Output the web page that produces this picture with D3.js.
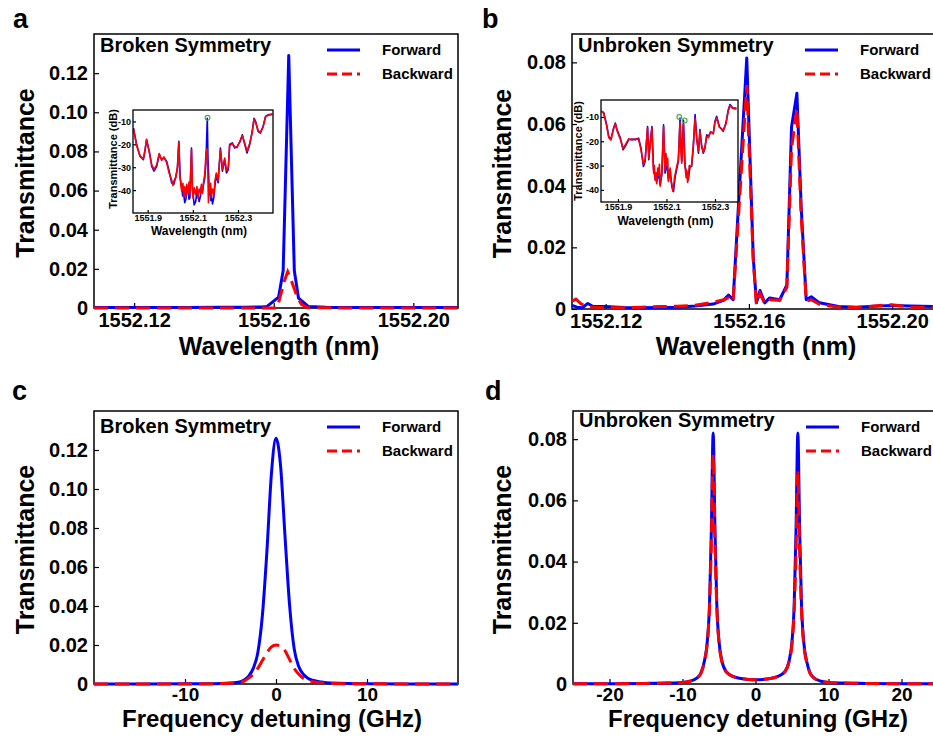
<!DOCTYPE html>
<html>
<head>
<meta charset="utf-8">
<script src="https://cdn.jsdelivr.net/npm/d3@7"></script>
<style>
  body { margin: 0; background: #fff; }
  svg text { font-family: "Liberation Sans", Arial, Helvetica, sans-serif; font-weight: bold; }
</style>
</head>
<body>
<div id="fig"></div>
<script>
// ---- panel a : measured, broken symmetry  [wavelength nm, transmittance]
const aForward = [
  [1552.1085, 0.0003], [1552.115, 0.0003], [1552.125, 0.0002], [1552.135, 0.0003], [1552.145, 0.0004],
  [1552.152, 0.0004], [1552.1566, 0.0005], [1552.1581, 0.0008], [1552.1614, 0.0056], [1552.1627, 0.019],
  [1552.1643, 0.129], [1552.1659, 0.019], [1552.1671, 0.005], [1552.1699, 0.0008], [1552.175, 0.0004],
  [1552.185, 0.0003], [1552.195, 0.0003], [1552.205, 0.0003], [1552.2128, 0.0003]
]
const aBackward = [
  [1552.1085, 0], [1552.13, 0], [1552.15, 0], [1552.1610, 0], [1552.1629, 0.013], [1552.1640, 0.0185],
  [1552.1653, 0.0128], [1552.1667, 0.0056], [1552.1679, 0.002], [1552.1695, 0.0002], [1552.18, 0], [1552.2128, 0]
]

// ---- panel b : measured, unbroken symmetry
const bForward = [
  [1552.1106, 0.0012], [1552.1120, 0.0006], [1552.1135, 0.0004], [1552.1150, 0.0018], [1552.1165, 0.0008],
  [1552.120, 0.0008], [1552.125, 0.0005], [1552.130, 0.0004], [1552.135, 0.0005], [1552.140, 0.0006],
  [1552.145, 0.0010], [1552.150, 0.0016], [1552.1529, 0.0028], [1552.1543, 0.0045], [1552.1556, 0.0030],
  [1552.1594, 0.0814], [1552.1612, 0.017], [1552.1621, 0.002], [1552.1631, 0.006], [1552.1644, 0.002],
  [1552.1658, 0.0036], [1552.1686, 0.003], [1552.1706, 0.0078], [1552.1719, 0.059], [1552.1734, 0.070],
  [1552.1746, 0.033], [1552.1760, 0.003], [1552.1774, 0.004], [1552.1797, 0.002], [1552.185, 0.0008],
  [1552.190, 0.0006], [1552.195, 0.0009], [1552.200, 0.0011], [1552.205, 0.0010], [1552.2128, 0.0008]
]
const bBackward = [
  [1552.1106, 0.0025], [1552.1117, 0.0032], [1552.1130, 0.0018], [1552.1145, 0.0008], [1552.1165, 0.0006],
  [1552.120, 0.0005], [1552.125, 0.0004], [1552.130, 0.0006], [1552.135, 0.0008], [1552.140, 0.0009],
  [1552.145, 0.0012], [1552.150, 0.0022], [1552.1529, 0.0030], [1552.1543, 0.0036], [1552.1556, 0.0025],
  [1552.1594, 0.0726], [1552.1612, 0.016], [1552.1621, 0.0015], [1552.1631, 0.005], [1552.1644, 0.0018],
  [1552.1658, 0.0030], [1552.1686, 0.0028], [1552.1706, 0.007], [1552.1719, 0.052], [1552.1734, 0.065],
  [1552.1746, 0.030], [1552.1760, 0.0025], [1552.1774, 0.003], [1552.1797, 0.0015], [1552.185, 0.0006],
  [1552.190, 0.0005], [1552.195, 0.0010], [1552.200, 0.0014], [1552.205, 0.0006], [1552.2128, 0.0005]
]

// ---- insets (dB spectra)  [wavelength nm, dB]
const insetAForward = [
  [1551.837, -12.9], [1551.851, -20.1], [1551.866, -25.2], [1551.881, -26.7], [1551.888, -23.0], [1551.895, -18.0],
  [1551.907, -23.0], [1551.918, -29.6], [1551.928, -31.7], [1551.940, -29.6], [1551.951, -24.5], [1551.962, -26.7],
  [1551.972, -25.9], [1551.984, -27.4], [1551.995, -31.7], [1552.006, -36.8], [1552.016, -37.5], [1552.025, -33.9],
  [1552.032, -30.3], [1552.038, -18.7], [1552.044, -34.6], [1552.051, -39.0], [1552.055, -42.5], [1552.060, -41.9],
  [1552.064, -45.5], [1552.069, -44.1], [1552.074, -40.0], [1552.079, -39.0], [1552.083, -44.0], [1552.087, -43.3],
  [1552.094, -21.6], [1552.098, -40.0], [1552.101, -41.9], [1552.106, -46.5], [1552.113, -44.8], [1552.118, -40.5],
  [1552.123, -41.9], [1552.128, -45.0], [1552.134, -42.6], [1552.138, -38.5], [1552.143, -40.4], [1552.148, -37.0],
  [1552.153, -34.6], [1552.158, -28.0], [1552.164, -8.6], [1552.167, -26.0], [1552.170, -33.2], [1552.173, -42.0],
  [1552.176, -39.0], [1552.179, -44.5], [1552.182, -41.9], [1552.187, -46.0], [1552.193, -43.3], [1552.198, -38.0],
  [1552.204, -33.2], [1552.212, -36.8], [1552.222, -21.6], [1552.231, -31.7], [1552.241, -26.7], [1552.249, -32.5],
  [1552.257, -31.0], [1552.263, -20.1], [1552.275, -19.4], [1552.285, -21.6], [1552.296, -20.9], [1552.310, -18.7],
  [1552.319, -15.8], [1552.330, -20.1], [1552.340, -23.8], [1552.352, -20.1], [1552.363, -14.3], [1552.371, -8.6],
  [1552.378, -10.0], [1552.389, -14.3], [1552.399, -15.1], [1552.411, -12.2], [1552.422, -7.8], [1552.433, -7.1],
  [1552.452, -6.8]
]
const insetABackward = [
  [1551.837, -13.2], [1551.851, -20.5], [1551.866, -25.0], [1551.881, -26.3], [1551.888, -22.5], [1551.895, -17.8],
  [1551.907, -23.4], [1551.918, -29.0], [1551.928, -31.0], [1551.940, -29.0], [1551.951, -24.0], [1551.962, -27.0],
  [1551.972, -25.5], [1551.984, -28.0], [1551.995, -32.5], [1552.006, -35.5], [1552.012, -38.0], [1552.016, -36.0],
  [1552.025, -34.5], [1552.032, -29.5], [1552.038, -19.0], [1552.042, -33.0], [1552.047, -38.0], [1552.051, -40.5],
  [1552.056, -37.0], [1552.060, -43.0], [1552.064, -38.5], [1552.069, -42.5], [1552.073, -37.5], [1552.079, -41.5],
  [1552.083, -36.5], [1552.087, -42.0], [1552.094, -22.5], [1552.098, -38.0], [1552.101, -43.5], [1552.106, -39.0],
  [1552.113, -42.0], [1552.118, -38.5], [1552.123, -43.5], [1552.128, -39.5], [1552.134, -41.0], [1552.138, -37.5],
  [1552.143, -41.5], [1552.148, -36.0], [1552.153, -33.0], [1552.158, -24.0], [1552.163, -22.0], [1552.166, -30.0],
  [1552.169, -45.5], [1552.172, -38.0], [1552.175, -41.0], [1552.179, -37.0], [1552.182, -43.0], [1552.187, -39.5],
  [1552.193, -42.0], [1552.198, -36.0], [1552.204, -32.5], [1552.212, -36.0], [1552.222, -22.5], [1552.231, -31.0],
  [1552.241, -26.0], [1552.249, -31.5], [1552.257, -30.0], [1552.263, -20.5], [1552.275, -19.8], [1552.285, -21.0],
  [1552.296, -21.5], [1552.310, -18.2], [1552.319, -16.2], [1552.330, -19.5], [1552.340, -23.0], [1552.352, -19.5],
  [1552.363, -14.8], [1552.371, -9.0], [1552.378, -10.5], [1552.389, -14.0], [1552.399, -14.8], [1552.411, -12.5],
  [1552.422, -8.0], [1552.433, -7.3], [1552.452, -6.9]
]
const insetAMarks = [[1552.165, -8.4]]

const insetBForward = [
  [1551.832, -7.7], [1551.841, -8.1], [1551.852, -12.5], [1551.862, -18.0], [1551.871, -19.1], [1551.882, -14.5],
  [1551.889, -12.5], [1551.896, -15.2], [1551.910, -18.7], [1551.921, -23.5], [1551.930, -22.1], [1551.944, -19.4],
  [1551.958, -19.1], [1551.971, -19.4], [1551.985, -18.7], [1551.995, -22.8], [1552.005, -30.4], [1552.012, -28.3],
  [1552.022, -13.9], [1552.027, -27.6], [1552.033, -20.7], [1552.040, -13.9], [1552.047, -31.7], [1552.053, -35.2],
  [1552.060, -36.5], [1552.067, -33.1], [1552.074, -37.9], [1552.081, -33.8], [1552.088, -13.2], [1552.094, -33.1],
  [1552.101, -29.0], [1552.108, -35.9], [1552.115, -31.7], [1552.122, -38.6], [1552.129, -40.7], [1552.136, -34.5],
  [1552.142, -31.7], [1552.149, -28.3], [1552.156, -10.4], [1552.163, -28.3], [1552.170, -11.4], [1552.177, -30.4],
  [1552.184, -33.1], [1552.190, -35.9], [1552.197, -30.4], [1552.204, -30.4], [1552.211, -22.1], [1552.218, -9.0],
  [1552.225, -18.7], [1552.232, -24.9], [1552.238, -15.2], [1552.245, -22.1], [1552.252, -24.9], [1552.259, -22.8],
  [1552.266, -17.3], [1552.273, -18.0], [1552.282, -16.3], [1552.293, -16.6], [1552.300, -11.8], [1552.307, -9.7],
  [1552.318, -13.9], [1552.327, -15.0], [1552.334, -15.9], [1552.345, -12.5], [1552.355, -7.0], [1552.362, -4.9],
  [1552.373, -6.3], [1552.389, -6.3]
]
const insetBBackward = [
  [1551.832, -7.5], [1551.841, -8.5], [1551.852, -13.0], [1551.862, -18.5], [1551.871, -19.5], [1551.882, -14.8],
  [1551.889, -12.8], [1551.896, -15.5], [1551.910, -19.2], [1551.921, -23.0], [1551.930, -21.5], [1551.944, -19.0],
  [1551.958, -19.5], [1551.971, -19.0], [1551.985, -19.2], [1551.995, -23.5], [1552.005, -29.5], [1552.012, -27.5],
  [1552.022, -14.5], [1552.027, -27.0], [1552.033, -21.5], [1552.040, -14.5], [1552.044, -27.0], [1552.047, -33.0],
  [1552.050, -30.0], [1552.053, -36.0], [1552.057, -33.0], [1552.060, -37.5], [1552.064, -31.0], [1552.067, -34.0],
  [1552.071, -29.5], [1552.074, -38.5], [1552.078, -35.0], [1552.081, -32.5], [1552.088, -14.0], [1552.094, -32.0],
  [1552.098, -25.0], [1552.101, -30.0], [1552.105, -27.0], [1552.108, -36.5], [1552.112, -33.0], [1552.115, -31.0],
  [1552.119, -36.5], [1552.122, -37.5], [1552.126, -40.5], [1552.129, -39.0], [1552.133, -35.0], [1552.136, -33.5],
  [1552.142, -30.5], [1552.149, -27.5], [1552.156, -12.0], [1552.160, -25.0], [1552.163, -29.0], [1552.166, -22.0],
  [1552.170, -13.0], [1552.174, -27.0], [1552.177, -31.0], [1552.181, -35.0], [1552.184, -32.0], [1552.187, -37.0],
  [1552.190, -35.0], [1552.194, -30.0], [1552.197, -31.0], [1552.204, -29.5], [1552.211, -21.0], [1552.218, -10.5],
  [1552.225, -19.5], [1552.232, -24.0], [1552.238, -16.0], [1552.245, -21.5], [1552.252, -24.5], [1552.259, -22.0],
  [1552.266, -17.8], [1552.273, -18.5], [1552.282, -16.0], [1552.293, -17.0], [1552.300, -12.3], [1552.307, -10.2],
  [1552.318, -14.2], [1552.327, -14.8], [1552.334, -15.5], [1552.345, -13.0], [1552.355, -7.5], [1552.362, -5.3],
  [1552.373, -6.5], [1552.389, -6.8]
]
const insetBMarks = [[1552.153, -10.0], [1552.175, -11.4]]

// ---- panel c / d : simulated, frequency detuning in GHz
const cDetuning = [-20, -10, -6, -5, -4, -3.5, -3, -2.5, -2, -1.5, -1, -0.5, 0, 0.5, 1, 1.5, 2, 2.5, 3, 3.5, 4, 5, 6, 10, 20]
const cForward = [0, 0.0001, 0.0003, 0.0005, 0.001, 0.002, 0.004, 0.008, 0.016, 0.035, 0.068, 0.108, 0.126, 0.112, 0.075, 0.040, 0.018, 0.009, 0.005, 0.003, 0.002, 0.001, 0.0005, 0.0001, 0]
const cBackward = [0, 0, 0.0002, 0.0004, 0.0008, 0.0015, 0.003, 0.005, 0.008, 0.012, 0.016, 0.019, 0.020, 0.0195, 0.017, 0.0125, 0.008, 0.005, 0.003, 0.002, 0.0012, 0.0006, 0.0003, 0.0001, 0]

const dDetuning = [-25, -20, -15, -12, -10, -9, -8, -7.5, -7, -6.6, -6.3, -6.05, -5.8, -5.55, -5.3, -5, -4.6, -4, -3, -2, -1, 0,
  1, 2, 3, 4, 4.6, 5, 5.3, 5.55, 5.8, 6.05, 6.3, 6.6, 7, 7.5, 8, 9, 10, 12, 15, 20, 25]
const dForward = [0.0001, 0.0001, 0.0002, 0.0003, 0.0005, 0.0009, 0.002, 0.0035, 0.0075, 0.014, 0.026, 0.050, 0.082, 0.050, 0.026, 0.014, 0.0075, 0.004, 0.0024, 0.0018, 0.0015, 0.0014,
  0.0015, 0.0018, 0.0024, 0.004, 0.0075, 0.014, 0.026, 0.050, 0.082, 0.050, 0.026, 0.014, 0.0075, 0.0035, 0.002, 0.0009, 0.0005, 0.0003, 0.0002, 0.0001, 0.0001]
const dBackward = [0.0001, 0.0001, 0.0002, 0.0003, 0.0005, 0.0009, 0.002, 0.0034, 0.0072, 0.0135, 0.025, 0.046, 0.075, 0.046, 0.025, 0.0135, 0.0072, 0.0039, 0.0024, 0.0018, 0.0015, 0.0014,
  0.0015, 0.0018, 0.0024, 0.0039, 0.0072, 0.013, 0.024, 0.043, 0.069, 0.043, 0.024, 0.013, 0.0072, 0.0034, 0.002, 0.0009, 0.0005, 0.0003, 0.0002, 0.0001, 0.0001]

// ticks
const wlTicks = [1552.12, 1552.16, 1552.20]
const cTicks = [-10, 0, 10]
const dTicks = [-20, -10, 0, 10, 20]
const yTicksBroken = [0, 0.02, 0.04, 0.06, 0.08, 0.10, 0.12]
const yTicksUnbroken = [0, 0.02, 0.04, 0.06, 0.08]
const insetXTicks = [1551.9, 1552.1, 1552.3]
const insetYTicks = [-10, -20, -30, -40]
const legendNames = ['Forward', 'Backward']

const BLUE = '#0000ff'
const RED = '#ff0000'

window.onload = function () {
  const width = 933
  const height = 738

  const svg = d3.select('#fig')
    .append('svg')
    .attr('width', width)
    .attr('height', height)

  const yFmt = function (d) { return d === 0 ? '0' : d3.format('.2f')(d) }

  function styleAxis (sel, size) {
    sel.attr('font-size', size)
      .attr('font-family', '"Liberation Sans", Arial, sans-serif')
      .attr('font-weight', 'bold')
    sel.select('.domain').remove()
    sel.selectAll('.tick line').attr('stroke', '#000').attr('stroke-width', 1.2)
    sel.selectAll('.tick text').attr('fill', '#000')
  }

  function drawPanel (p) {
    const x = d3.scaleLinear().domain(p.xDomain).range([p.left, p.right])
    const y = d3.scaleLinear().domain(p.yDomain).range([p.bottom, p.top])

    svg.append('clipPath').attr('id', 'clip-' + p.letter)
      .append('rect')
      .attr('x', p.left - 1).attr('y', p.top)
      .attr('width', p.right - p.left + 2).attr('height', p.bottom - p.top + 3)

    svg.append('g')
      .attr('transform', 'translate(0,' + p.bottom + ')')
      .call(d3.axisBottom(x).tickValues(p.xTicks).tickFormat(p.xFormat)
        .tickSizeInner(-5).tickSizeOuter(0).tickPadding(p.xPad))
      .call(styleAxis, p.xTickSize)

    svg.append('g')
      .attr('transform', 'translate(' + p.left + ',0)')
      .call(d3.axisLeft(y).tickValues(p.yTicks).tickFormat(yFmt)
        .tickSizeInner(-5).tickSizeOuter(0).tickPadding(6))
      .call(styleAxis, 20)

    svg.append('rect')
      .attr('x', p.left).attr('y', p.top)
      .attr('width', p.right - p.left).attr('height', p.bottom - p.top)
      .attr('fill', 'none').attr('stroke', '#000').attr('stroke-width', 1.5)

    const line = d3.line()
      .x(function (d) { return x(d[0]) })
      .y(function (d) { return y(d[1]) })
      .curve(p.curve)

    const lines = svg.append('g').attr('clip-path', 'url(#clip-' + p.letter + ')')
    lines.append('path').datum(p.forward)
      .attr('d', line).attr('fill', 'none')
      .attr('stroke', BLUE).attr('stroke-width', 3).attr('stroke-linejoin', 'round')
    lines.append('path').datum(p.backward)
      .attr('d', line).attr('fill', 'none')
      .attr('stroke', RED).attr('stroke-width', 3).attr('stroke-dasharray', '14,7')

    // panel letter + title
    svg.append('text').attr('x', p.letterX).attr('y', p.letterY)
      .attr('font-size', 27).text(p.letter)
    svg.append('text').attr('x', p.left + 6).attr('y', p.top + p.titleDy)
      .attr('font-size', 20).text(p.title)

    // legend
    const lg = svg.append('g').attr('transform', 'translate(' + (p.left + 233) + ',' + p.top + ')')
    lg.append('line').attr('x1', 0).attr('x2', 33).attr('y1', 16).attr('y2', 16)
      .attr('stroke', BLUE).attr('stroke-width', 3)
    lg.append('line').attr('x1', 0).attr('x2', 33).attr('y1', 40).attr('y2', 40)
      .attr('stroke', RED).attr('stroke-width', 3).attr('stroke-dasharray', '10,5')
    lg.selectAll('.lgtext').data(legendNames).enter().append('text')
      .attr('class', 'lgtext')
      .attr('x', 55)
      .attr('y', function (d, i) { return 21 + i * 24 })
      .attr('font-size', 15)
      .text(function (d) { return d })

    // axis titles
    svg.append('text')
      .attr('x', p.xTitleX).attr('y', p.bottom + p.xTitleDy)
      .attr('text-anchor', 'middle').attr('font-size', p.xTitleSize)
      .text(p.xTitle)
    svg.append('text')
      .attr('transform', 'translate(' + p.yTitleX + ',' + ((p.top + p.bottom) / 2 + 2) + ') rotate(-90)')
      .attr('text-anchor', 'middle').attr('font-size', 25)
      .text('Transmittance')
  }

  function drawInset (q) {
    const x = d3.scaleLinear().domain(q.xDomain).range([q.left, q.right])
    const y = d3.scaleLinear().domain(q.yDomain).range([q.bottom, q.top])

    svg.append('rect')
      .attr('x', q.left).attr('y', q.top)
      .attr('width', q.right - q.left).attr('height', q.bottom - q.top)
      .attr('fill', '#fff')

    svg.append('clipPath').attr('id', q.id)
      .append('rect')
      .attr('x', q.left).attr('y', q.top)
      .attr('width', q.right - q.left).attr('height', q.bottom - q.top)

    const line = d3.line()
      .x(function (d) { return x(d[0]) })
      .y(function (d) { return y(d[1]) })

    const g = svg.append('g').attr('clip-path', 'url(#' + q.id + ')')
    g.append('path').datum(q.forward).attr('d', line)
      .attr('fill', 'none').attr('stroke', BLUE).attr('stroke-width', 1.6).attr('stroke-linejoin', 'round')
    g.append('path').datum(q.backward).attr('d', line)
      .attr('fill', 'none').attr('stroke', RED).attr('stroke-width', 1.6).attr('stroke-linejoin', 'round')
    g.selectAll('.mark').data(q.marks).enter().append('circle')
      .attr('cx', function (d) { return x(d[0]) })
      .attr('cy', function (d) { return y(d[1]) })
      .attr('r', 2.4)
      .attr('fill', 'none').attr('stroke', '#3fae3f').attr('stroke-width', 1.1)

    svg.append('g')
      .attr('transform', 'translate(0,' + q.bottom + ')')
      .call(d3.axisBottom(x).tickValues(insetXTicks).tickFormat(d3.format('.1f'))
        .tickSizeInner(-3).tickSizeOuter(0).tickPadding(2))
      .call(styleAxis, 9)
    svg.append('g')
      .attr('transform', 'translate(' + q.left + ',0)')
      .call(d3.axisLeft(y).tickValues(insetYTicks).tickFormat(function (d) { return String(d) })
        .tickSizeInner(-3).tickSizeOuter(0).tickPadding(2))
      .call(styleAxis, 9)

    svg.append('rect')
      .attr('x', q.left).attr('y', q.top)
      .attr('width', q.right - q.left).attr('height', q.bottom - q.top)
      .attr('fill', 'none').attr('stroke', '#000').attr('stroke-width', 1.3)

    svg.append('text')
      .attr('x', (q.left + q.right) / 2 - 4).attr('y', q.xTitleY)
      .attr('text-anchor', 'middle').attr('font-size', 12)
      .text('Wavelength (nm)')
    svg.append('text')
      .attr('transform', 'translate(' + q.yTitleX + ',' + q.yTitleY + ') rotate(-90)')
      .attr('text-anchor', 'middle').attr('font-size', 11)
      .text('Transmittance (dB)')
  }

  drawPanel({
    letter: 'a', letterX: 13, letterY: 28, title: 'Broken Symmetry', titleDy: 18,
    left: 94, right: 458, top: 34, bottom: 308,
    xDomain: [1552.1085, 1552.2128], yDomain: [0, 0.14],
    xTicks: wlTicks, xFormat: d3.format('.2f'), yTicks: yTicksBroken, xPad: 5, xTickSize: 20,
    forward: aForward, backward: aBackward, curve: d3.curveLinear,
    xTitle: 'Wavelength (nm)', xTitleX: 279, xTitleDy: 47, xTitleSize: 25, yTitleX: 34
  })
  drawInset({
    id: 'clip-ia', left: 133, right: 273, top: 110, bottom: 213,
    xDomain: [1551.835, 1552.455], yDomain: [-50, -5],
    forward: insetAForward, backward: insetABackward, marks: insetAMarks,
    xTitleY: 235, yTitleX: 117, yTitleY: 159
  })

  drawPanel({
    letter: 'b', letterX: 482, letterY: 28, title: 'Unbroken Symmetry', titleDy: 18,
    left: 572, right: 938, top: 34, bottom: 309,
    xDomain: [1552.1106, 1552.2128], yDomain: [0, 0.0892],
    xTicks: wlTicks, xFormat: d3.format('.2f'), yTicks: yTicksUnbroken, xPad: 5, xTickSize: 20,
    forward: bForward, backward: bBackward, curve: d3.curveLinear,
    xTitle: 'Wavelength (nm)', xTitleX: 756, xTitleDy: 46, xTitleSize: 25, yTitleX: 511
  })
  drawInset({
    id: 'clip-ib', left: 601, right: 738, top: 100, bottom: 202,
    xDomain: [1551.83, 1552.395], yDomain: [-45, -3],
    forward: insetBForward, backward: insetBBackward, marks: insetBMarks,
    xTitleY: 225, yTitleX: 582, yTitleY: 151
  })

  drawPanel({
    letter: 'c', letterX: 12, letterY: 400, title: 'Broken Symmetry', titleDy: 22,
    left: 94, right: 458, top: 411, bottom: 684,
    xDomain: [-20, 20], yDomain: [0, 0.14],
    xTicks: cTicks, xFormat: function (d) { return String(d) }, yTicks: yTicksBroken, xPad: 3, xTickSize: 19,
    forward: cDetuning.map(function (d, i) { return [d, cForward[i]] }),
    backward: cDetuning.map(function (d, i) { return [d, cBackward[i]] }),
    curve: d3.curveMonotoneX,
    xTitle: 'Frequency detuning (GHz)', xTitleX: 272, xTitleDy: 43, xTitleSize: 24, yTitleX: 34
  })

  drawPanel({
    letter: 'd', letterX: 485, letterY: 400, title: 'Unbroken Symmetry', titleDy: 16,
    left: 573, right: 938, top: 411, bottom: 684,
    xDomain: [-25, 25], yDomain: [0, 0.0892],
    xTicks: dTicks, xFormat: function (d) { return String(d) }, yTicks: yTicksUnbroken, xPad: 3, xTickSize: 19,
    forward: dDetuning.map(function (d, i) { return [d, dForward[i]] }),
    backward: dDetuning.map(function (d, i) { return [d, dBackward[i]] }),
    curve: d3.curveMonotoneX,
    xTitle: 'Frequency detuning (GHz)', xTitleX: 758, xTitleDy: 43, xTitleSize: 24, yTitleX: 511
  })
}
</script>
</body>
</html>
